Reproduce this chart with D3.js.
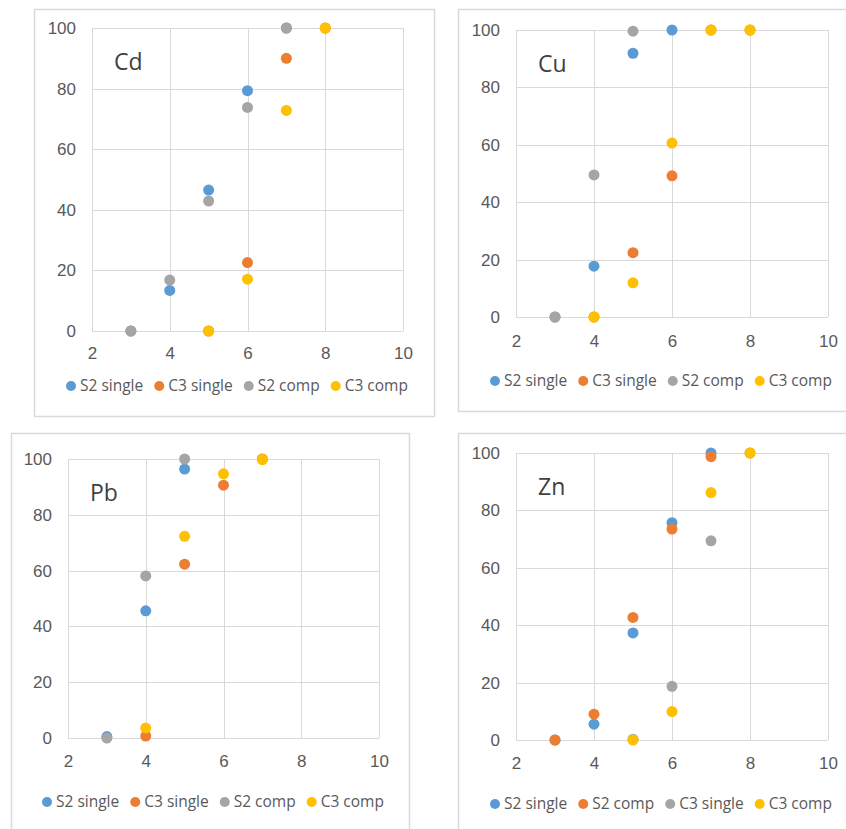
<!DOCTYPE html>
<html>
<head>
<meta charset="utf-8">
<script src="https://cdn.jsdelivr.net/npm/d3@7"></script>
<style>
  body { margin: 0; background: #fff; }
  svg { display: block; font-family: "Open Sans", sans-serif; }
  .tick text { fill: #595959; font-size: 17px; }
  .legend text { fill: #595959; font-size: 15.5px; }
  .title { fill: #404040; font-size: 23px; }
</style>
</head>
<body>
<div id="chart"></div>
<script>
// axis ticks shared by all four panels
let xTicks = [2, 4, 6, 8, 10];
let yTicks = [0, 20, 40, 60, 80, 100];
let colors = ["#5b9bd5", "#ed7d31", "#a5a5a5", "#ffc000"];

// Cd
let cdNames = ["S2 single", "C3 single", "S2 comp", "C3 comp"];
let cdS2single = [[3, 0], [4, 13.4], [5, 46.5], [6, 79.3], [7, 100]];
let cdC3single = [[5, 0], [6, 22.6], [7, 90], [8, 100]];
let cdS2comp = [[3, 0], [4, 16.8], [5, 42.9], [6, 73.8], [7, 100]];
let cdC3comp = [[5, 0], [6, 17.1], [7, 72.8], [8, 100]];

// Cu
let cuNames = ["S2 single", "C3 single", "S2 comp", "C3 comp"];
let cuS2single = [[3, 0], [4, 17.7], [5, 91.9], [6, 100]];
let cuC3single = [[4, 0], [5, 22.4], [6, 49.2], [7, 100], [8, 100]];
let cuS2comp = [[3, 0], [4, 49.5], [5, 99.6]];
let cuC3comp = [[4, 0], [5, 11.9], [6, 60.6], [7, 100], [8, 100]];

// Pb
let pbNames = ["S2 single", "C3 single", "S2 comp", "C3 comp"];
let pbS2single = [[3, 0.5], [4, 45.6], [5, 96.4]];
let pbC3single = [[4, 0.7], [5, 62.3], [6, 90.6], [7, 100]];
let pbS2comp = [[3, 0], [4, 58.1], [5, 100]];
let pbC3comp = [[4, 3.6], [5, 72.3], [6, 94.7], [7, 99.8]];

// Zn (legend order differs)
let znNames = ["S2 single", "S2 comp", "C3 single", "C3 comp"];
let znS2single = [[3, 0], [4, 5.5], [5, 37.3], [6, 75.7], [7, 100]];
let znS2comp = [[3, 0], [4, 9.0], [5, 42.7], [6, 73.5], [7, 98.7]];
let znC3single = [[5, 0.3], [6, 18.7], [7, 69.4], [8, 100]];
let znC3comp = [[5, 0], [6, 9.9], [7, 86.2], [8, 100]];

// panel layout: frame box, plot box, label offsets
let panels = [
    {title: "Cd", names: cdNames, series: [cdS2single, cdC3single, cdS2comp, cdC3comp],
     box: [34, 9, 434, 416], plot: [92, 403, 28, 331], xPad: 18, legY: 55},
    {title: "Cu", names: cuNames, series: [cuS2single, cuC3single, cuS2comp, cuC3comp],
     box: [458, 9, 860, 411], plot: [516, 828, 30, 317], xPad: 20, legY: 64},
    {title: "Pb", names: pbNames, series: [pbS2single, pbC3single, pbS2comp, pbC3comp],
     box: [11, 433, 409, 860], plot: [68, 379, 459, 738], xPad: 19, legY: 64},
    {title: "Zn", names: znNames, series: [znS2single, znS2comp, znC3single, znC3comp],
     box: [458, 433, 860, 860], plot: [516, 828, 453, 740], xPad: 19, legY: 64}
];

let svg = d3.select("#chart")
            .append("svg")
                .attr("width", 846)
                .attr("height", 829);

panels.forEach(p => drawPanel(p));

function drawPanel(p) {
    let g = svg.append("g");

    // outer frame
    g.append("rect")
        .attr("x", p.box[0] + 0.5)
        .attr("y", p.box[1] + 0.5)
        .attr("width", p.box[2] - p.box[0])
        .attr("height", p.box[3] - p.box[1])
        .style("fill", "none")
        .style("stroke", "#d9d9d9")
        .style("stroke-width", 1.5);

    let x = d3.scaleLinear()
        .domain([2, 10])
        .range([p.plot[0], p.plot[1]]);
    let y = d3.scaleLinear()
        .domain([0, 100])
        .range([p.plot[3], p.plot[2]]);

    // gridlines
    g.append("g")
        .selectAll("line")
        .data(yTicks)
        .enter()
        .append("line")
            .attr("x1", x(2))
            .attr("x2", x(10))
            .attr("y1", d => Math.round(y(d)) + 0.5)
            .attr("y2", d => Math.round(y(d)) + 0.5)
            .style("stroke", "#d9d9d9");
    g.append("g")
        .selectAll("line")
        .data(xTicks)
        .enter()
        .append("line")
            .attr("x1", d => Math.round(x(d)) + 0.5)
            .attr("x2", d => Math.round(x(d)) + 0.5)
            .attr("y1", y(0))
            .attr("y2", y(100))
            .style("stroke", "#d9d9d9");

    // axes (labels only)
    let xAxis = g.append("g")
        .attr("transform", "translate(0," + y(0) + ")")
        .call(d3.axisBottom(x).tickValues(xTicks).tickSize(0).tickPadding(p.xPad - 2));
    let yAxis = g.append("g")
        .attr("transform", "translate(" + x(2) + ",0)")
        .call(d3.axisLeft(y).tickValues(yTicks).tickSize(0).tickPadding(16));
    xAxis.select(".domain").remove();
    yAxis.select(".domain").remove();
    g.selectAll(".tick text").attr("font-family", null).attr("font-size", null);

    // points, in series order so later series sit on top
    p.series.forEach((s, i) => {
        g.append("g")
            .selectAll("circle")
            .data(s)
            .enter()
            .append("circle")
                .attr("r", 5.5)
                .attr("cx", d => x(d[0]))
                .attr("cy", d => y(d[1]))
                .style("fill", colors[i]);
    });

    // element label
    g.append("text")
        .attr("class", "title")
        .attr("x", x(2) + 22)
        .attr("y", y(100) + 42)
        .text(p.title);

    // legend
    let legend = g.append("g")
        .attr("class", "legend")
        .attr("transform", "translate(0," + (y(0) + p.legY) + ")");
    let cx = x(2) - 21;
    p.names.forEach((name, i) => {
        legend.append("circle")
            .attr("cx", cx)
            .attr("cy", 0)
            .attr("r", 5)
            .style("fill", colors[i]);
        let t = legend.append("text")
            .attr("x", cx + 9)
            .attr("dy", "0.35em")
            .text(name);
        cx += 9 + t.node().getComputedTextLength() + 16;
    });
}
</script>
</body>
</html>
